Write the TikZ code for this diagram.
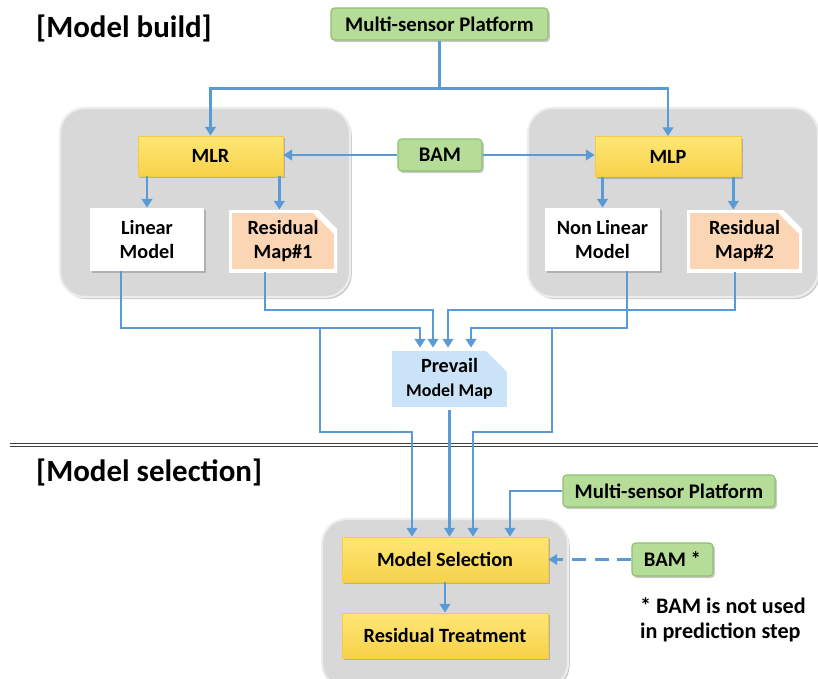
\documentclass[tikz,border=0pt]{standalone}
\usepackage{fontspec}
\setmainfont{Carlito}
\usepackage{xcolor}
\usepackage{tikz}
\usetikzlibrary{arrows.meta,shadows}

\definecolor{flowblue}{HTML}{5B9BD5}
\definecolor{sensorgreen}{HTML}{B5DD98}
\definecolor{sensorline}{HTML}{8FBF70}
\definecolor{methodtop}{HTML}{FFE675}
\definecolor{methodbottom}{HTML}{F7D24A}
\definecolor{mappeach}{HTML}{FCD5B4}
\definecolor{mapblue}{HTML}{CAE3F8}
\definecolor{groupgray}{HTML}{D9D8D9}

\begin{document}
\begin{tikzpicture}[
  shade/.style={drop shadow={shadow xshift=1pt, shadow yshift=-1.2pt, opacity=0.35, fill=black!60}},
  flow/.style={draw=flowblue, line width=1.6pt, -{Triangle[length=5pt,width=6pt]}},
  group/.style={rectangle, rounded corners=0.5cm, fill=groupgray, draw=black!7, line width=1.2pt, shade},
  sensor/.style={rectangle, rounded corners=2pt, fill=sensorgreen, draw=sensorline, line width=0.6pt, minimum height=0.64cm, shade, font=\fontsize{11.8}{14}\selectfont\bfseries},
  method/.style={rectangle, top color=methodtop, bottom color=methodbottom, draw=methodbottom!90!orange, line width=0.4pt, minimum height=0.8cm, shade, font=\fontsize{11.5}{14}\selectfont\bfseries},
  model/.style={rectangle, fill=white, minimum height=1.26cm, align=center, shade, font=\fontsize{11.5}{13.6}\selectfont\bfseries},
  mapbox/.style={rectangle, minimum height=1.24cm, align=center, font=\fontsize{11.5}{13.6}\selectfont\bfseries,
    path picture={\filldraw[fill=#1, draw=white, line width=3.2pt, line join=miter]
      (path picture bounding box.south west) -- (path picture bounding box.north west)
      -- ([xshift=-13pt]path picture bounding box.north east)
      -- ([yshift=-13pt]path picture bounding box.north east)
      -- (path picture bounding box.south east) -- cycle;}},
  title/.style={anchor=west, font=\fontsize{17.6}{20}\selectfont\bfseries},
  sepline/.style={draw=black!75, double=white, line width=0.7pt, double distance=0.9pt}]
\useasboundingbox (0,0) rectangle (16.36,-13.56);

\node[group, minimum width=5.8cm, minimum height=3.78cm] (grpL) at (4.10,-4.05) {};
\node[group, minimum width=5.8cm, minimum height=3.78cm] (grpR) at (13.46,-4.05) {};
\node[group, minimum width=4.92cm, minimum height=3.38cm] (grpB) at (8.90,-12.07) {};

\node[title] (buildtitle) at (0.60,-0.56) {[Model build]};
\node[sensor, minimum width=4.34cm] (msp1) at (8.79,-0.48) {Multi-sensor Platform};
\node[method, minimum width=2.9cm] (mlr) at (4.21,-3.12) {MLR};
\node[sensor, minimum width=1.68cm] (bam1) at (8.80,-3.10) {BAM};
\node[method, minimum width=2.92cm] (mlp) at (13.36,-3.13) {MLP};
\node[model, minimum width=2.28cm] (lin) at (2.94,-4.79) {Linear\\Model};
\node[mapbox=mappeach, minimum width=2.16cm] (res1) at (5.66,-4.82) {Residual\\Map\#1};
\node[model, minimum width=2.30cm] (nlin) at (12.05,-4.79) {Non Linear\\Model};
\node[mapbox=mappeach, minimum width=2.30cm] (res2) at (14.89,-4.82) {Residual\\Map\#2};
\node[mapbox=mapblue, minimum width=2.42cm] (prev) at (8.99,-7.58) {Prevail\\{\fontsize{10.2}{12}\selectfont Model Map}};

\draw[sepline] (0.2,-8.90) -- (16.36,-8.90);

\node[title] (selecttitle) at (0.60,-9.44) {[Model selection]};
\node[sensor, minimum width=4.24cm] (msp2) at (13.38,-9.82) {Multi-sensor Platform};
\node[method, minimum width=4.12cm, minimum height=0.9cm] (msel) at (8.90,-11.19) {Model Selection};
\node[method, minimum width=4.12cm, minimum height=0.9cm] (rtreat) at (8.90,-12.71) {Residual Treatment};
\node[sensor, minimum width=1.62cm, minimum height=0.66cm] (bam2) at (13.45,-11.19) {BAM *};
\node[anchor=west, align=left, font=\fontsize{12.6}{14.2}\selectfont\bfseries] (note) at (12.68,-12.39) {* BAM is not used\\in prediction step};

\coordinate (busA) at (0,-6.20);
\coordinate (busB) at (0,-6.56);
\coordinate (busC) at (0,-8.64);
\coordinate (j1) at (6.40,-6.56);
\coordinate (j2) at (11.04,-6.56);
\coordinate (m1) at ([xshift=-0.08cm]mlr.south east);
\coordinate (m2) at ([xshift=-0.16cm]mlp.south east);
\coordinate (l1) at ([xshift=-0.52cm]lin.south);
\coordinate (r1) at ([xshift=-0.36cm]res1.south);
\coordinate (n1) at ([xshift=0.49cm]nlin.south);
\coordinate (r2) at ([xshift=-0.19cm]res2.south);
\coordinate (p1) at ([xshift=-0.59cm]prev.north);
\coordinate (p2) at ([xshift=-0.33cm]prev.north);
\coordinate (p3) at ([xshift=-0.03cm]prev.north);
\coordinate (p4) at ([xshift=0.43cm]prev.north);
\coordinate (s1) at ([xshift=-0.66cm]msel.north);
\coordinate (s2) at ([xshift=0.56cm]msel.north);
\coordinate (s3) at ([xshift=1.30cm]msel.north);

\draw[flow] (msp1.south) -- ++(0,-0.96) -| (mlr.north);
\draw[flow] (msp1.south) -- ++(0,-0.96) -| (mlp.north);
\draw[flow] (bam1.west) -- (bam1.west -| mlr.east);
\draw[flow] (bam1.east) -- (bam1.east -| mlp.west);
\draw[flow] (lin.north |- mlr.south) -- (lin.north);
\draw[flow] (m1) -- (m1 |- res1.north);
\draw[flow] (nlin.north |- mlp.south) -- (nlin.north);
\draw[flow] (m2) -- (m2 |- res2.north);
\draw[flow] (l1) |- (p1 |- busB) -- (p1);
\draw[flow] (r1) |- (p2 |- busA) -- (p2);
\draw[flow] (r2) |- (p3 |- busA) -- (p3);
\draw[flow] (n1) |- (p4 |- busB) -- (p4);
\draw[flow] (j1) |- (s1 |- busC) -- (s1);
\draw[flow] (j2) |- (s2 |- busC) -- (s2);
\draw[flow] (prev.south) -- (prev.south |- msel.north);
\draw[flow] (msp2.west) -| (s3);
\draw[flow] (msel) -- (rtreat);
\draw[flow, dash pattern=on 8pt off 5pt] (bam2) -- (msel);
\end{tikzpicture}
\end{document}
